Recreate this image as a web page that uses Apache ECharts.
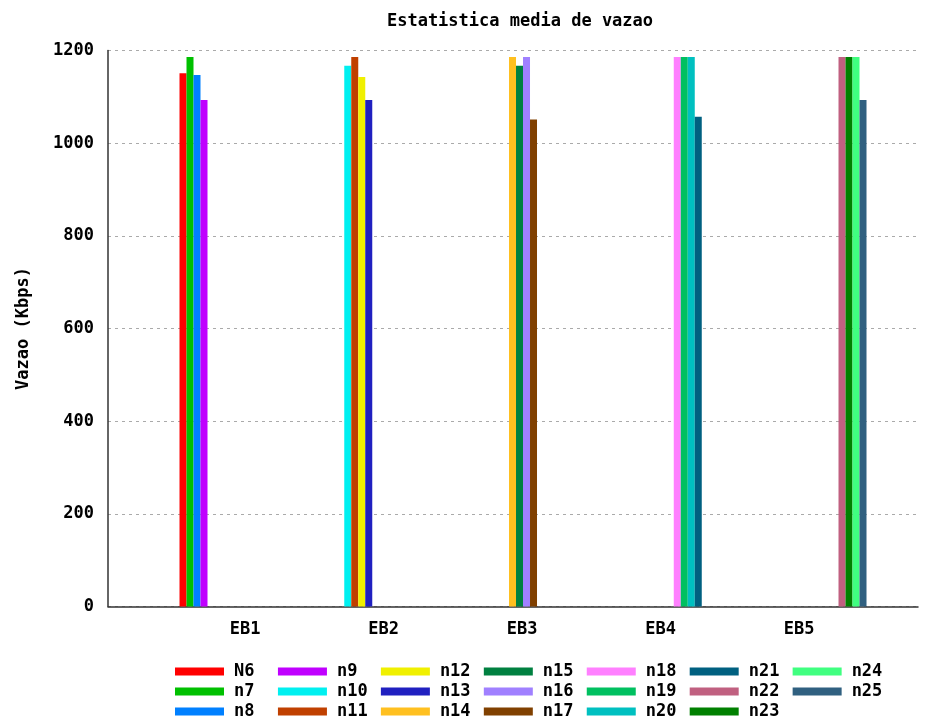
<!DOCTYPE html>
<html>
<head>
<meta charset="utf-8">
<script src="https://cdn.jsdelivr.net/npm/echarts@6/dist/echarts.min.js"></script>
<style>
html,body{margin:0;padding:0;background:#fff;}
#chart{width:932px;height:717px;}
</style>
</head>
<body>
<div id="chart"></div>
<script>
var categories = ['EB1', 'EB2', 'EB3', 'EB4', 'EB5'];
var seriesNames = ['N6','n7','n8','n9','n10','n11','n12','n13','n14','n15','n16','n17','n18','n19','n20','n21','n22','n23','n24','n25'];
// category index each series belongs to
var seriesCategory = [0,0,0,0, 1,1,1,1, 2,2,2,2, 3,3,3,3, 4,4,4,4];
var seriesValues = [1151,1186,1147,1093, 1167,1186,1143,1093, 1186,1167,1186,1051, 1186,1186,1186,1057, 1186,1186,1186,1093];
var seriesColors = ['#ff0000','#00c000','#0080ff','#c000ff','#00f0f0','#c04000','#f0f000','#2020c0','#ffc020','#008040','#a080ff','#804000','#ff80ff','#00c060','#00c0c0','#006080','#c06080','#008000','#40ff80','#306080'];
var yTicks = [0, 200, 400, 600, 800, 1000, 1200];

var FONT = 'DejaVu Sans Mono';

var series = seriesNames.map(function (name, k) {
  var data = categories.map(function (c, i) {
    return [i, i === seriesCategory[k] ? seriesValues[k] : null];
  });
  return {
    name: name,
    type: 'bar',
    xAxisIndex: 0,
    stack: 'slot' + (k % 4),
    barWidth: 7,
    barGap: 0,
    data: data,
    itemStyle: { color: seriesColors[k] },
    emphasis: { disabled: true }
  };
});

var chart = echarts.init(document.getElementById('chart'), null, { renderer: 'canvas' });
chart.setOption({
  animation: false,
  backgroundColor: '#ffffff',
  color: seriesColors,
  title: {
    text: 'Estatistica media de vazao',
    left: 515,
    textAlign: 'center',
    top: 8,
    textStyle: { fontFamily: FONT, fontSize: 17, fontWeight: 'bold', color: '#000' }
  },
  legend: {
    orient: 'vertical',
    left: 170,
    top: 658,
    height: 62,
    itemWidth: 49,
    itemHeight: 8,
    itemGap: 3,
    icon: 'rect',
    data: seriesNames,
    formatter: function (name) {
      var s = name;
      while (s.length < 4) { s += ' '; }
      return s;
    },
    textStyle: { fontFamily: FONT, fontSize: 17, fontWeight: 'bold', color: '#000', padding: [0, 0, 0, 5] }
  },
  grid: { left: 108, right: 14, top: 50.5, bottom: 110.5, containLabel: false },
  xAxis: [
    {
      type: 'value',
      min: -0.519,
      max: 4.3975,
      position: 'bottom',
      axisLine: { show: true, onZero: false, lineStyle: { color: '#333', width: 1.5 } },
      axisTick: { show: false },
      axisLabel: { show: false },
      splitLine: { show: false }
    },
    {
      type: 'value',
      min: -0.9906,
      max: 4.8578,
      position: 'bottom',
      axisLine: { show: false, onZero: false },
      axisTick: { show: false },
      splitLine: { show: false },
      axisLabel: {
        show: true,
        customValues: categories.map(function (c, i) { return i; }),
        formatter: function (v) { return categories[Math.round(v)]; },
        margin: 15,
        fontFamily: FONT, fontSize: 17, fontWeight: 'bold', color: '#000'
      }
    }
  ],
  yAxis: {
    type: 'value',
    min: yTicks[0],
    max: yTicks[yTicks.length - 1],
    interval: yTicks[1] - yTicks[0],
    name: 'Vazao (Kbps)',
    nameLocation: 'middle',
    nameGap: 76,
    nameTextStyle: { fontFamily: FONT, fontSize: 17, fontWeight: 'bold', color: '#000' },
    axisLine: { show: true, onZero: false, lineStyle: { color: '#333', width: 1.5 } },
    axisTick: { show: false },
    axisLabel: {
      margin: 14, fontFamily: FONT, fontSize: 17, fontWeight: 'bold', color: '#000',
      formatter: function (v) { return String(v); }
    },
    splitLine: { show: true, lineStyle: { color: '#aaaaaa', type: [3, 4], width: 1 } }
  },
  series: series
});
</script>
</body>
</html>
